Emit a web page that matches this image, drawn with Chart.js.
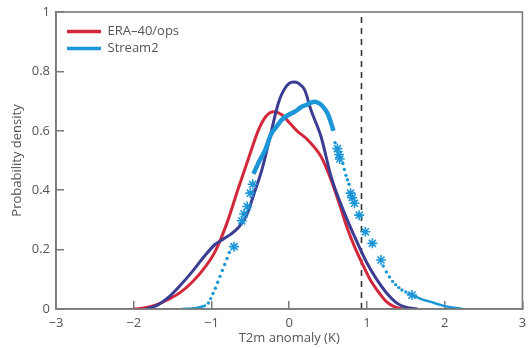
<!DOCTYPE html>
<html><head><meta charset="utf-8">
<script src="https://cdn.jsdelivr.net/npm/chart.js@4/dist/chart.umd.min.js"></script>
<style>html,body{margin:0;padding:0;background:#fff;}#wrap{width:529px;height:348px;}</style>
</head><body><div id="wrap"><canvas id="c" width="529" height="348"></canvas></div>
<script>
// ---- data ----
const xTickValues = [-3, -2, -1, 0, 1, 2, 3];
const xTickLabels = ['\u22123', '\u22122', '\u22121', '0', '1', '2', '3'];
const yTickValues = [0, 0.2, 0.4, 0.6, 0.8, 1];
const yTickLabels = ['0', '0.2', '0.4', '0.6', '0.8', '1'];

const eraX = [-2.0,-1.85,-1.7,-1.55,-1.4,-1.25,-1.1,-0.95,-0.8,-0.65,-0.5,-0.4,-0.3,-0.2,-0.1,0.0,0.1,0.24,0.41,0.54,0.65,0.75,0.84,0.96,1.05,1.13,1.25,1.35,1.45];
const eraY = [0,0.004,0.015,0.033,0.056,0.09,0.135,0.195,0.29,0.41,0.525,0.6,0.648,0.664,0.655,0.628,0.6,0.569,0.513,0.434,0.35,0.27,0.21,0.142,0.095,0.064,0.025,0.008,0];

const navyX = [-1.84,-1.7,-1.55,-1.4,-1.25,-1.1,-0.95,-0.85,-0.75,-0.65,-0.55,-0.45,-0.35,-0.25,-0.14,-0.05,0.05,0.12,0.2,0.28,0.41,0.54,0.7,0.88,1.0,1.13,1.25,1.39,1.5,1.65];
const navyY = [0,0.012,0.04,0.08,0.125,0.175,0.218,0.235,0.252,0.275,0.315,0.39,0.47,0.575,0.693,0.745,0.764,0.76,0.737,0.67,0.58,0.445,0.33,0.221,0.155,0.098,0.055,0.019,0.006,0];

const s2BandX = [-0.46,-0.38,-0.31,-0.23,-0.16,-0.1,0.0,0.07,0.16,0.22,0.28,0.33,0.4,0.45,0.5,0.54,0.57];
const s2BandY = [0.455,0.5,0.535,0.59,0.615,0.636,0.655,0.664,0.681,0.687,0.695,0.698,0.69,0.676,0.655,0.625,0.6];

const s2LeftTailX = [-1.38,-1.25,-1.15,-1.07];
const s2LeftTailY = [0,0.002,0.006,0.012];
const s2RightTailX = [1.58,1.7,1.81,1.93,2.03,2.15,2.24];
const s2RightTailY = [0.047,0.033,0.025,0.015,0.008,0.003,0];

const s2DotsX = [-1.04,-1.01,-0.98,-0.95,-0.92,-0.89,-0.86,-0.83,-0.8,-0.77,0.59,0.69,0.71,0.73,0.75,0.77,1.21,1.25,1.29,1.33,1.37,1.41,1.45,1.5,1.54];
const s2DotsY = [0.02,0.035,0.052,0.07,0.09,0.11,0.13,0.15,0.17,0.19,0.56,0.49,0.47,0.45,0.435,0.42,0.145,0.125,0.108,0.093,0.082,0.072,0.064,0.057,0.051];

const s2StarsX = [-0.71,-0.61,-0.58,-0.54,-0.5,-0.47,0.62,0.64,0.65,0.79,0.81,0.84,0.9,0.98,1.07,1.18,1.58];
const s2StarsY = [0.21,0.297,0.32,0.345,0.39,0.42,0.54,0.52,0.505,0.39,0.375,0.356,0.316,0.26,0.221,0.165,0.047];

const thresholdX = [0.93];

// ---- styles ----
const RED = '#d2283c', BLUE = '#1c96d6', NAVY = '#3a3d91', AXIS = '#7a7a7a', TXT = '#555555';
const FONT = 'Open Sans';
const pts = (xs, ys) => xs.map((x, i) => ({x: x, y: ys[i]}));

const boxPlugin = {
  id: 'box',
  afterLayout(chart) {
    const lg = chart.legend; if (lg) { lg.left += 7; lg.top += 21; }
  },
  afterDatasetsDraw(chart) {
    const a = chart.chartArea, ctx = chart.ctx;
    ctx.save(); ctx.strokeStyle = AXIS; ctx.lineWidth = 1.6;
    ctx.strokeRect(a.left, a.top, a.right - a.left, a.bottom - a.top);
    ctx.restore();
  }
};

new Chart(document.getElementById('c'), {
  type: 'line',
  data: {
    datasets: [
      {label: 'ERA\u201340/ops', data: pts(eraX, eraY), borderColor: RED, backgroundColor: RED, borderWidth: 3, pointRadius: 0, cubicInterpolationMode: 'monotone', order: 3},
      {label: 'Stream2', data: pts(s2BandX, s2BandY), borderColor: BLUE, backgroundColor: BLUE, borderWidth: 4.5, pointRadius: 0, cubicInterpolationMode: 'monotone', order: 0},
      {label: 'navy', data: pts(navyX, navyY), borderColor: NAVY, backgroundColor: NAVY, borderWidth: 3, pointRadius: 0, cubicInterpolationMode: 'monotone', order: 2},
      {label: 'tailL', data: pts(s2LeftTailX, s2LeftTailY), borderColor: BLUE, borderWidth: 2.5, pointRadius: 0, cubicInterpolationMode: 'monotone', order: 1},
      {label: 'tailR', data: pts(s2RightTailX, s2RightTailY), borderColor: BLUE, borderWidth: 2.5, pointRadius: 0, cubicInterpolationMode: 'monotone', order: 1},
      {label: 'dots', data: pts(s2DotsX, s2DotsY), showLine: false, pointRadius: 1.7, pointBackgroundColor: BLUE, pointBorderColor: BLUE, pointBorderWidth: 0, order: 1},
      {label: 'stars', data: pts(s2StarsX, s2StarsY), showLine: false, pointStyle: 'star', pointRadius: 5, pointBorderColor: BLUE, pointBorderWidth: 1.6, order: 0},
      {label: 'thr', data: [{x: thresholdX[0], y: 0}, {x: thresholdX[0], y: 1}], borderColor: '#333333', borderWidth: 1.6, borderDash: [6, 5], pointRadius: 0, order: 4}
    ]
  },
  options: {
    responsive: false, animation: false, devicePixelRatio: 1,
    layout: {padding: {top: 12, right: 2, left: 0, bottom: 0}},
    plugins: {
      tooltip: {enabled: false},
      legend: {
        position: 'chartArea', align: 'start',
        labels: {
          usePointStyle: true, pointStyle: 'line', pointStyleWidth: 34, boxWidth: 34, boxHeight: 13,
          padding: 4, color: TXT, font: {family: FONT, size: 13},
          filter: (item) => item.text === 'ERA\u201340/ops' || item.text === 'Stream2',
          sort: (a, b) => a.datasetIndex - b.datasetIndex,
          generateLabels(chart) {
            const items = Chart.defaults.plugins.legend.labels.generateLabels(chart);
            items.forEach(it => { it.lineWidth = 3.5; });
            return items;
          }
        }
      }
    },
    scales: {
      x: {
        type: 'linear', min: -3, max: 3,
        afterBuildTicks(s) { s.ticks = xTickValues.map(v => ({value: v})); },
        ticks: {autoSkip: false, maxRotation: 0, padding: 14, color: TXT, font: {family: FONT, size: 13},
          callback: (v) => xTickLabels[xTickValues.indexOf(v)]},
        grid: {drawOnChartArea: false, tickLength: -8, color: AXIS, lineWidth: 1.5},
        border: {color: AXIS, width: 1.6},
        title: {display: true, text: 'T2m anomaly (K)', color: TXT, font: {family: FONT, size: 13}, padding: {top: 0, bottom: 2}},
        afterFit(s) { s.height = 39; s.paddingLeft = 0; s.paddingRight = 0; }
      },
      y: {
        min: 0, max: 1,
        afterBuildTicks(s) { s.ticks = yTickValues.map(v => ({value: v})); },
        ticks: {padding: 14, color: TXT, font: {family: FONT, size: 13},
          callback: (v) => yTickLabels[yTickValues.indexOf(v)]},
        grid: {drawOnChartArea: false, tickLength: -8, color: AXIS, lineWidth: 1.5},
        border: {color: AXIS, width: 1.6},
        title: {display: true, text: 'Probability density', color: TXT, font: {family: FONT, size: 13}, padding: {top: 9, bottom: 0}},
        afterFit(s) { s.width = 56; s.paddingTop = 0; s.paddingBottom = 0; }
      }
    }
  },
  plugins: [boxPlugin]
});
</script>
</body></html>
